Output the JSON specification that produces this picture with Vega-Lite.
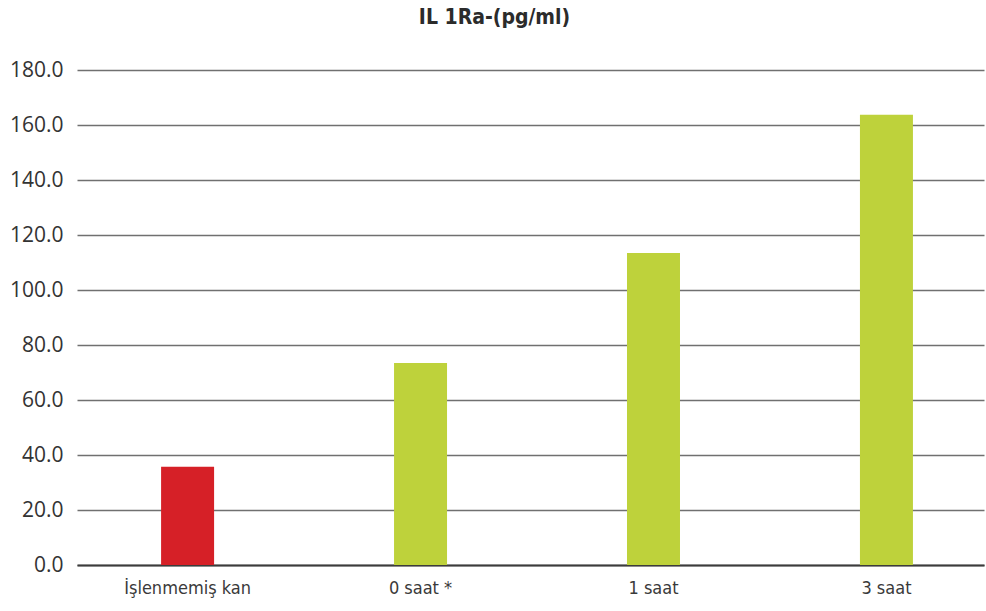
{
  "$schema": "https://vega.github.io/schema/vega-lite/v6.json",
  "autosize": {"type": "none"},
  "width": 907,
  "height": 495,
  "padding": {"left": 77, "top": 70, "right": 2, "bottom": 46},
  "background": "white",
  "title": {
    "text": "IL 1Ra-(pg/ml)",
    "font": "DejaVu Sans Condensed",
    "fontWeight": "bold",
    "fontSize": 21,
    "color": "#2b2b2b",
    "anchor": "middle",
    "dx": -36,
    "offset": 31
  },
  "data": {
    "values": [
      {"grup": "İşlenmemiş kan", "deger": 35.7, "tip": "kontrol"},
      {"grup": "0 saat *", "deger": 73.5, "tip": "islem"},
      {"grup": "1 saat", "deger": 113.5, "tip": "islem"},
      {"grup": "3 saat", "deger": 163.7, "tip": "islem"}
    ]
  },
  "mark": {"type": "bar"},
  "encoding": {
    "x": {
      "field": "grup",
      "type": "nominal",
      "sort": null,
      "scale": {"paddingInner": 0.7725, "paddingOuter": 0.333, "align": 0.542},
      "axis": {
        "title": null,
        "labelAngle": 0,
        "ticks": false,
        "labelPadding": 14,
        "labelFont": "DejaVu Sans Condensed",
        "labelFontSize": 18,
        "labelColor": "#3a3a3a",
        "domainColor": "#3c3c3c",
        "domainWidth": 2,
        "grid": false
      }
    },
    "y": {
      "field": "deger",
      "type": "quantitative",
      "scale": {"domain": [0, 180]},
      "axis": {
        "title": null,
        "values": [0, 20, 40, 60, 80, 100, 120, 140, 160, 180],
        "format": ".1f",
        "ticks": false,
        "domain": false,
        "labelPadding": 14,
        "labelFont": "Open Sans",
        "labelFontSize": 21,
        "labelColor": "#333333",
        "gridColor": "#707070",
        "gridWidth": 1.6
      }
    },
    "color": {
      "field": "tip",
      "type": "nominal",
      "scale": {"domain": ["kontrol", "islem"], "range": ["#d62027", "#bed23b"]},
      "legend": null
    }
  },
  "config": {"view": {"stroke": null}}
}
